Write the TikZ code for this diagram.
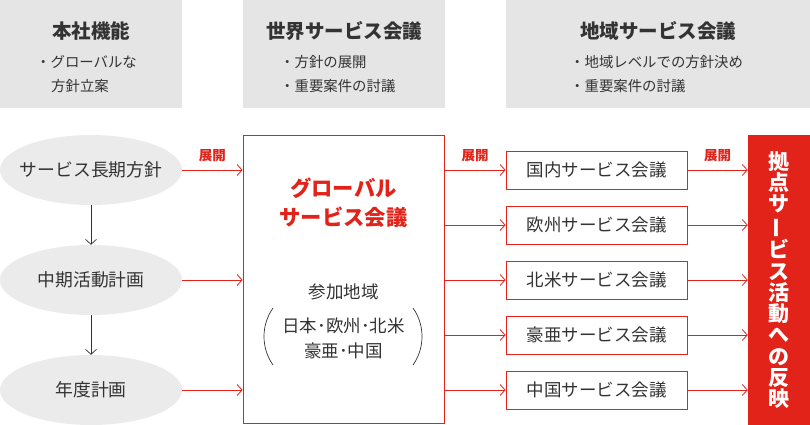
\documentclass[tikz,border=0pt]{standalone}
\usepackage{fontspec}
\setmainfont{Noto Sans CJK JP}
\usetikzlibrary{arrows.meta,shapes.geometric}
\definecolor{rosso}{HTML}{E2231A}
\definecolor{grigio}{HTML}{E5E5E5}
\definecolor{ovale}{HTML}{EBEBEB}
\definecolor{testo}{HTML}{333333}

\begin{document}
\begin{tikzpicture}[x=1pt,y=-1pt,
  >={Straight Barb[length=5pt,width=11pt]},
  testa/.style={fill=grigio,draw=none,inner sep=0pt,minimum height=108pt},
  titolo/.style={text=testo,font=\fontsize{19.5}{22}\selectfont\bfseries},
  voce/.style={text=testo,font=\fontsize{14.4}{16}\selectfont,anchor=west,inner sep=0pt},
  ovalino/.style={ellipse,fill=ovale,inner xsep=-20pt,inner ysep=0pt,minimum width=182pt,
    minimum height=70pt,text=testo,font=\fontsize{17.8}{19}\selectfont},
  riunione/.style={draw=rosso,line width=0.8pt,minimum width=181pt,minimum height=38pt,
    inner sep=0pt,text=testo,font=\fontsize{17.5}{19}\selectfont},
  freccia/.style={->,draw=rosso,line width=0.8pt},
  etichetta/.style={text=rosso,font=\fontsize{13.5}{15}\selectfont\bfseries,above=4pt}]
\useasboundingbox (0,0) rectangle (810,425);
 % intestazioni
  \node (h1) at (91,54)    [testa,minimum width=182pt] {};
  \node (h2) at (344,54)   [testa,minimum width=202pt] {};
  \node (h3) at (658,54)   [testa,minimum width=304pt] {};
  \node (t1) at (91,31)    [titolo] {本社機能};
  \node (t2) at (344,31)   [titolo] {世界サービス会議};
  \node (t3) at (658,31)   [titolo] {地域サービス会議};
  \node (v1a) at (36,62)   [voce] {・グローバルな};
  \node (v1b) at (51,86)   [voce] {方針立案};
  \node (v2a) at (280,62)  [voce] {・方針の展開};
  \node (v2b) at (280,86)  [voce] {・重要案件の討議};
  \node (v3a) at (570,62)  [voce] {・地域レベルでの方針決め};
  \node (v3b) at (570,86)  [voce] {・重要案件の討議};
 % nodi
  \node (e1) at (91,170) [ovalino] {サービス長期方針};
  \node (e2) at (91,280) [ovalino] {中期活動計画};
  \node (e3) at (91,390) [ovalino] {年度計画};
  \node (G) at (343.5,279.5) [draw=rosso,line width=0.8pt,minimum width=201pt,
    minimum height=288pt,inner sep=0pt] {};
  \node (gt) at (343.5,203) [text=rosso,align=center,
    font=\fontsize{21.3}{29}\selectfont\bfseries] {グローバル\\サービス会議};
  \node (pa) at (343.5,292) [text=testo,font=\fontsize{17.5}{19}\selectfont] {参加地域};
  \node (pb) at (343.5,338) [text=testo,align=center,
    font=\fontsize{17.5}{25}\selectfont] {日本･欧州･北米\\豪亜･中国};
  \node (s1) at (596.5,170) [riunione] {国内サービス会議};
  \node (s2) at (596.5,225) [riunione] {欧州サービス会議};
  \node (s3) at (596.5,280) [riunione] {北米サービス会議};
  \node (s4) at (596.5,335) [riunione] {豪亜サービス会議};
  \node (s5) at (596.5,390) [riunione] {中国サービス会議};
  \node (R) at (779,280) [fill=rosso,minimum width=62pt,minimum height=290pt,inner sep=0pt,
    text=white,align=center,font=\fontsize{21}{21.3}\selectfont\bfseries]
    {拠\\点\\サ\\\rotatebox[origin=c]{90}{ー}\\ビ\\ス\\活\\動\\へ\\の\\反\\映};
 % parentesi
  \draw[testo,line width=0.7pt] (273,308) .. controls (261,325) and (261,348) .. (273,365);
  \draw[testo,line width=0.7pt] (413,308) .. controls (425,325) and (425,348) .. (413,365);
 % archi
  \path[->,draw=testo,line width=0.7pt] (e1) edge (e2);
  \path[->,draw=testo,line width=0.7pt] (e2) edge (e3);
  \draw[freccia] (e1.east) -- node[etichetta] {展開} (e1.east -| G.west);
  \draw[freccia] (e2.east) -- (e2.east -| G.west);
  \draw[freccia] (e3.east) -- (e3.east -| G.west);
  \draw[freccia] (G.east |- s1.west) -- node[etichetta] {展開} (s1.west);
  \draw[freccia] (G.east |- s2.west) -- (s2.west);
  \draw[freccia] (G.east |- s3.west) -- (s3.west);
  \draw[freccia] (G.east |- s4.west) -- (s4.west);
  \draw[freccia] (G.east |- s5.west) -- (s5.west);
  \draw[freccia] (s1.east) -- node[etichetta] {展開} (s1.east -| R.west);
  \draw[freccia] (s2.east) -- (s2.east -| R.west);
  \draw[freccia] (s3.east) -- (s3.east -| R.west);
  \draw[freccia] (s4.east) -- (s4.east -| R.west);
  \draw[freccia] (s5.east) -- (s5.east -| R.west);
\end{tikzpicture}
\end{document}
